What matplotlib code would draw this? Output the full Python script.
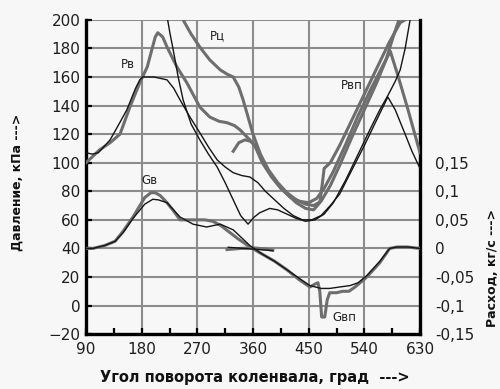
import numpy as np
import matplotlib
matplotlib.use('Agg')
import matplotlib.pyplot as plt
from matplotlib.ticker import MultipleLocator

#
# Data (pressure in kPa, flow in kg/s).
#

pv_exp_deg = [90, 100, 112, 129, 145, 161, 177, 189, 197, 202, 206, 214, 221, 237, 253, 274, 290, 305, 318, 330,
              339, 348, 355, 363, 375, 390, 405, 420, 435, 450, 463, 475, 490, 510, 530, 550, 570, 582, 595, 610, 630]
pv_exp = [100, 104, 109, 114, 120, 139, 156, 167, 180, 188, 191, 188, 181, 167, 156, 139, 132, 129, 128, 126,
          123, 119, 116, 112, 100, 90, 82, 76, 73, 72, 75, 82, 94, 113, 133, 151, 168, 178, 160, 138, 107]

pc_exp_deg = [247, 260, 274, 290, 307, 318, 328, 337, 344, 352, 360, 372, 385, 400, 415, 430, 445, 458, 470, 485,
              500, 520, 540, 560, 575, 588, 596]
pc_exp = [200, 190, 181, 172, 165, 162, 160, 153, 144, 132, 120, 106, 95, 86, 79, 74, 71, 70, 73, 84,
          98, 118, 137, 156, 172, 190, 200]

pvp_exp_deg = [328, 337, 347, 356, 363, 372, 385, 400, 415, 430, 445, 458, 468, 472, 475, 485, 500, 520, 540, 560,
               580, 598, 606]
pvp_exp = [108, 114, 116, 115, 112, 104, 94, 85, 78, 72, 68, 67, 72, 85, 96, 100, 112, 130, 148, 166,
           184, 198, 200]

pv_calc_deg = [90, 100, 110, 129, 142, 156, 170, 177, 182, 200, 221, 232, 242, 258, 274, 288, 302, 315, 328, 342,
               355, 368, 380, 395, 410, 425, 440, 455, 470, 485, 500, 520, 540, 560, 578, 590, 605, 617, 630]
pv_calc = [107, 106, 107, 116, 126, 137, 152, 158, 160, 160, 158, 152, 144, 132, 121, 111, 102, 97, 93, 91,
           90, 86, 80, 74, 68, 63, 60, 60, 63, 70, 78, 95, 112, 130, 146, 137, 121, 108, 96]

pc_calc_deg = [222, 226, 231, 239, 247, 260, 274, 288, 302, 315, 328, 340, 352, 362, 371, 387, 400, 415, 430, 445,
               460, 475, 490, 510, 530, 550, 565, 578, 590, 598, 606, 614]
pc_calc = [200, 190, 179, 160, 144, 127, 116, 106, 97, 86, 74, 63, 57, 62, 65, 68, 67, 64, 61, 59,
           60, 64, 72, 88, 106, 124, 137, 147, 157, 165, 180, 200]

gv_exp_deg = [90, 101, 120, 137, 150, 166, 185, 195, 202, 210, 221, 232, 242, 255, 269, 282, 295, 308, 320, 335,
              355, 375, 395, 415, 435, 452, 460, 465, 468, 471, 476, 480, 484, 495, 505, 515, 525, 544, 565, 581,
              593, 610, 630]
gv_exp = [0, 0, 0.005, 0.0125, 0.03, 0.055, 0.089, 0.0975, 0.0975, 0.0925,
          0.08, 0.065, 0.05, 0.05, 0.05, 0.05, 0.0475, 0.04, 0.03, 0.0175,
          0.0025, -0.01, -0.0225, -0.0375, -0.055, -0.0675, -0.0625, -0.06, -0.075, -0.12,
          -0.12, -0.09, -0.0775, -0.0775, -0.075, -0.075, -0.0675, -0.05, -0.025, 0,
          0.0025, 0.0025, 0]

gv_calc_deg = [90, 101, 120, 137, 150, 166, 185, 198, 207, 221, 242, 263, 285, 307, 328, 355, 375, 395, 415, 435,
               452, 470, 484, 500, 517, 530, 544, 565, 581, 593, 610, 630]
gv_calc = [0, 0, 0.005, 0.0125, 0.0275, 0.0525, 0.0775, 0.086, 0.085, 0.08,
           0.055, 0.0425, 0.0375, 0.0425, 0.0325, 0.005, -0.01, -0.0225, -0.0375, -0.0525,
           -0.065, -0.07, -0.07, -0.0675, -0.065, -0.06, -0.0475, -0.0225, 0, 0.0025,
           0.0025, 0]

gvp_exp_deg = [318, 340, 360, 380, 392]
gvp_exp = [-0.002, 0, 0.001, -0.001, -0.003]
gvp_calc_deg = [320, 345, 370, 392]
gvp_calc = [0.002, 0, -0.002, -0.004]

x_ticks = [90, 180, 270, 360, 450, 540, 630]
g_ticks = [-0.15, -0.1, -0.05, 0, 0.05, 0.1, 0.15]
g_labels = ['-0,15', '-0,1', '-0,05', '0', '0,05', '0,1', '0,15']

GREY = '#6e6e6e'
BLACK = '#151515'
BG = '#f7f7f7'


def main():
    fig = plt.figure(figsize=(5.0, 3.89), dpi=100, facecolor=BG)
    ax = fig.add_axes([0.172, 0.141, 0.668, 0.808], facecolor=BG)

    ax.set_xlim(90, 630)
    ax.set_ylim(-20, 200)
    ax.set_xticks(x_ticks)
    ax.xaxis.set_minor_locator(MultipleLocator(45))
    ax.yaxis.set_major_locator(MultipleLocator(20))
    ax.grid(True, which='major', color='#8c8c8c', linewidth=1.5)
    ax.set_axisbelow(True)

    for side in ('left', 'bottom', 'right'):
        ax.spines[side].set_linewidth(2.4)
        ax.spines[side].set_color('black')
    ax.spines['top'].set_visible(False)

    ax.tick_params(which='both', direction='in', length=4, width=1.6, color='black',
                   right=True, labelsize=11, labelcolor='#1e1e1e', pad=4)
    ax.tick_params(axis='x', pad=6)

    # pressure curves
    ax.plot(pv_exp_deg, pv_exp, color=GREY, lw=2.2, zorder=3)
    ax.plot(pc_exp_deg, pc_exp, color=GREY, lw=2.2, zorder=3)
    ax.plot(pvp_exp_deg, pvp_exp, color=GREY, lw=2.2, zorder=3)
    ax.plot(pv_calc_deg, pv_calc, color=BLACK, lw=1.0, zorder=4)
    ax.plot(pc_calc_deg, pc_calc, color=BLACK, lw=1.0, zorder=4)

    # flow curves on the right axis
    ax2 = ax.twinx()
    ax2.set_ylim(-0.15, 0.4)
    ax2.set_yticks(g_ticks)
    ax2.set_yticklabels(g_labels)
    ax2.tick_params(length=0, labelsize=11, labelcolor='#1e1e1e', pad=11)
    for s in ax2.spines.values():
        s.set_visible(False)

    ax2.plot(gv_exp_deg, gv_exp, color=GREY, lw=2.2, zorder=3)
    ax2.plot(gv_calc_deg, gv_calc, color=BLACK, lw=1.0, zorder=4)
    ax2.plot(gvp_exp_deg, gvp_exp, color=GREY, lw=2.2, zorder=3)
    ax2.plot(gvp_calc_deg, gvp_calc, color=BLACK, lw=1.0, zorder=4)

    # curve names
    for txt, x, y in [('Рв', 158, 169), ('Рц', 303, 189), ('Рвп', 520, 154),
                      ('Gв', 193, 87.5), ('Gвп', 507, -8)]:
        ax.text(x, y, txt, fontsize=8.5, color='#222222', ha='center', va='center', zorder=6)

    fig.text(0.51, 0.03, 'Угол поворота коленвала, град  --->', ha='center', va='center',
             fontsize=10.5, fontweight='bold', color='#111111')
    fig.text(0.035, 0.53, 'Давление, кПа --->', rotation=90, ha='center', va='center',
             fontsize=9, fontweight='bold', color='#111111')
    fig.text(0.985, 0.31, 'Расход, кг/с --->', rotation=90, ha='center', va='center',
             fontsize=9, fontweight='bold', color='#111111')

    fig.savefig('out.png', dpi=100, facecolor=BG)


if __name__ == '__main__':
    main()
